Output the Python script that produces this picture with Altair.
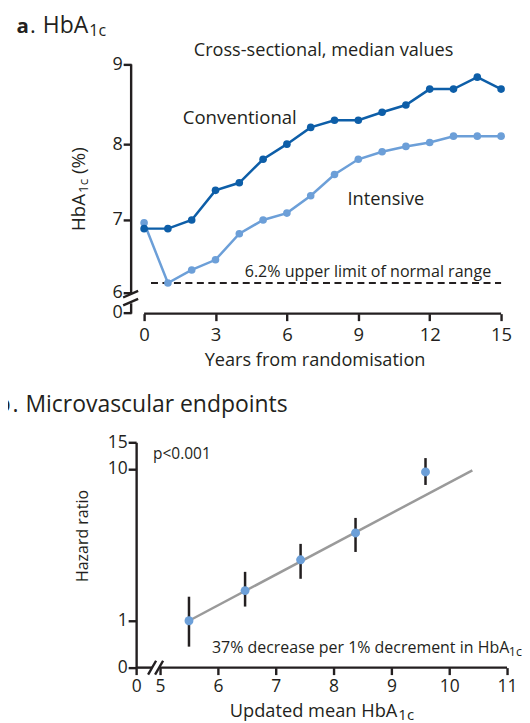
import altair as alt
import pandas as pd

FONT = "Open Sans"
INK = "#231f20"
DARK = "#0d5ea8"
LIGHT = "#6c9fd8"
GREY = "#9a9a9a"

# ---------------- data ----------------
years = list(range(16))
conventional = [6.88, 6.88, 7.0, 7.39, 7.49, 7.8, 8.0, 8.21, 8.3, 8.3, 8.4, 8.49, 8.69, 8.69, 8.84, 8.69]
intensive = [6.96, 6.13, 6.31, 6.45, 6.81, 7.0, 7.09, 7.32, 7.6, 7.8, 7.9, 7.97, 8.02, 8.1, 8.1, 8.1]
normal_limit = 6.13
x_ticks_a = [0, 3, 6, 9, 12, 15]
y_ticks_a = [6, 7, 8, 9]

hba1c_mean = [5.5, 6.47, 7.43, 8.38, 9.59]
hazard_ratio = [1.0, 1.58, 2.52, 3.79, 9.56]
hr_low = [0.675, 1.24, 1.89, 2.84, 7.85]
hr_high = [1.44, 2.1, 3.21, 4.76, 11.8]
fit_x = [5.5, 10.4]
fit_hr = [1.0, 9.8]
x_ticks_b = [5, 6, 7, 8, 9, 10, 11]
y_ticks_b = [1, 10, 15]

# ---------------- layout ----------------
W = 372
HA = 250
HB = 226
AXW = 2.4

# the printed y axis of panel a is slightly uneven: follow its tick spacing
ya_scale = alt.Scale(domain=[5.707, 6, 7, 8, 9], range=[250, 228.7, 156, 80, 0],
                     nice=False, zero=False)
xa_scale = alt.Scale(domain=[-0.335, 15.25], nice=False, zero=False)
A_ZERO = 5.72        # where the broken y axis shows "0"
A_BOT = 5.707
A_AXIS_X = -0.5445   # y axis line (offset 5px left of plot)

xa_axis = alt.Axis(values=x_ticks_a, format="d", domain=False, tickSize=7,
                   labelPadding=5, labelFontSize=18.5, title=None)
ya_axis = alt.Axis(values=[A_ZERO] + y_ticks_a,
                   labelExpr="datum.value < 5.9 ? '0' : format(datum.value, 'd')",
                   domain=False, tickSize=8, labelPadding=1, offset=5,
                   labelFontSize=18, title=None)


def XA(f):
    return alt.X(f"{f}:Q", scale=xa_scale, axis=xa_axis)


def YA(f):
    return alt.Y(f"{f}:Q", scale=ya_scale, axis=ya_axis)


xb_scale = alt.Scale(domain=[4.586, 11], nice=False, zero=False)
yb_scale = alt.Scale(type="log", domain=[0.491, 15], nice=False)
B_ZERO_X = 4.586
B_ZERO_Y = 0.491
xb_axis = alt.Axis(values=[B_ZERO_X] + x_ticks_b,
                   labelExpr="datum.value < 4.9 ? '0' : format(datum.value, 'd')",
                   domain=False, tickSize=7, labelPadding=2.5, labelFontSize=17.5,
                   title=None)
yb_axis = alt.Axis(values=[B_ZERO_Y] + y_ticks_b,
                   labelExpr="datum.value < 0.9 ? '0' : format(datum.value, 'd')",
                   domain=True, tickSize=8, labelPadding=1, labelFontSize=17.5,
                   title=None)


def XB(f):
    return alt.X(f"{f}:Q", scale=xb_scale, axis=xb_axis)


def YB(f):
    return alt.Y(f"{f}:Q", scale=yb_scale, axis=yb_axis)


def ptext(t, x, y, size, align="left", weight="normal", angle=0):
    return alt.Chart(pd.DataFrame({"t": [t]})).mark_text(
        font=FONT, fontSize=size, fontWeight=weight, align=align,
        baseline="alphabetic", angle=angle, color=INK
    ).encode(x=alt.value(x), y=alt.value(y), text="t:N")


def dtext(t, x, y, size, X, Y, align="left"):
    df = pd.DataFrame({"t": [t], "x": [x], "y": [y]})
    return alt.Chart(df).mark_text(
        font=FONT, fontSize=size, align=align, baseline="alphabetic", color=INK
    ).encode(x=X("x"), y=Y("y"), text="t:N")


def segments(rows, X, Y):
    df = pd.DataFrame(rows, columns=["x", "y", "x2", "y2"])
    return alt.Chart(df).mark_rule(color=INK, strokeWidth=AXW, strokeCap="butt").encode(
        x=X("x"), y=Y("y"), x2="x2:Q", y2="y2:Q")


# invisible anchor fixing the top-left corner of the drawing
anchor = alt.Chart(pd.DataFrame({"t": [0]})).mark_point(
    opacity=0, size=1, filled=True, strokeWidth=0
).encode(x=alt.value(-150), y=alt.value(-60))

# ---------------- panel a ----------------
df_a = pd.DataFrame({"year": years, "conv": conventional, "int": intensive})

int_line = alt.Chart(df_a).mark_line(color=LIGHT, strokeWidth=2.5).encode(x=XA("year"), y=YA("int"))
int_pts = alt.Chart(df_a).mark_circle(color=LIGHT, size=58, opacity=1).encode(x=XA("year"), y=YA("int"))
conv_line = alt.Chart(df_a).mark_line(color=DARK, strokeWidth=2.5).encode(x=XA("year"), y=YA("conv"))
conv_pts = alt.Chart(df_a).mark_circle(color=DARK, size=58, opacity=1).encode(x=XA("year"), y=YA("conv"))

lim = alt.Chart(pd.DataFrame({"x": [0.29], "x2": [15.0], "y": [normal_limit]})).mark_rule(
    color=INK, strokeWidth=2, strokeDash=[7, 4.5]).encode(x=XA("x"), x2="x2:Q", y=YA("y"))

axes_a = segments([
    (A_AXIS_X, 9.0, A_AXIS_X, 5.98),
    (A_AXIS_X, 5.85, A_AXIS_X, A_BOT),
    (0, A_BOT, 15, A_BOT),
    (-0.88, 5.93, -0.25, 6.02),
    (-0.88, 5.82, -0.25, 5.91),
], XA, YA)

panel_a = alt.layer(
    anchor, axes_a, lim, int_line, int_pts, conv_line, conv_pts,
    dtext("Cross-sectional, median values", 7.54, 9.104, 18.2, XA, YA, "center"),
    dtext("Conventional", 4.02, 8.254, 18.6, XA, YA, "center"),
    dtext("Intensive", 10.16, 7.197, 18.3, XA, YA, "center"),
    dtext("6.2% upper limit of normal range", 9.405, 6.209, 16.1, XA, YA, "center"),
    ptext("a", -120, -31, 20.5, weight="bold"),
    ptext(".", -106.5, -31, 22),
    ptext("HbA", -48, -31, 23, "right"),
    ptext("1c", -47, -28.5, 16),
    ptext("Years from randomisation", 179.5, 302, 18.2, "center"),
    ptext("HbA", -51, 130, 18.7, "right", angle=270),
    ptext("1c", -48.5, 129, 13.5, angle=270),
    ptext("(%)", -51, 110, 19, angle=270),
).properties(width=W, height=HA)

# ---------------- panel b ----------------
df_b = pd.DataFrame({"x": hba1c_mean, "hr": hazard_ratio, "lo": hr_low, "hi": hr_high})
df_fit = pd.DataFrame({"x": fit_x, "hr": fit_hr})

fit = alt.Chart(df_fit).mark_line(color=GREY, strokeWidth=2.5).encode(x=XB("x"), y=YB("hr"))
err = alt.Chart(df_b).mark_rule(color=INK, strokeWidth=2.5).encode(x=XB("x"), y=YB("lo"), y2="hi:Q")
pts_b = alt.Chart(df_b).mark_circle(color=LIGHT, size=80, opacity=1).encode(x=XB("x"), y=YB("hr"))

axes_b = segments([
    (4.586, 0.491, 4.862, 0.491),
    (4.983, 0.491, 11.0, 0.491),
    (4.793, 0.441, 4.931, 0.545),
    (4.914, 0.441, 5.052, 0.545),
], XB, YB)

panel_b = alt.layer(
    axes_b, fit, err, pts_b,
    dtext("p<0.001", 4.879, 11.6, 15.5, XB, YB),
    dtext("37% decrease per 1% decrement in HbA", 5.897, 0.616, 16, XB, YB),
    dtext("1c", 11.03, 0.589, 12.5, XB, YB),
    ptext("b", -126, -30, 22.5, "right", weight="bold"),
    ptext(".", -124, -30, 23),
    ptext("Microvascular endpoints", -111, -30, 23),
    ptext("Hazard ratio", -48, 94, 16, "center", angle=270),
    ptext("Updated mean HbA", 262, 275.5, 18.3, "right"),
    ptext("1c", 263, 278.5, 15),
).properties(width=W, height=HB)

chart = alt.vconcat(panel_a, panel_b, spacing=129, bounds="flush").properties(
    padding={"left": -22.5, "top": -5.5, "right": 0, "bottom": 0}
).configure_view(stroke=None).configure_axis(
    labelFont=FONT, labelColor=INK, tickColor=INK, tickWidth=AXW,
    domainColor=INK, domainWidth=AXW, grid=False, labelFlush=False, labelOverlap=False,
    labelBound=False
)

chart.save("out.html", embed_options={"renderer": "svg", "actions": False})
